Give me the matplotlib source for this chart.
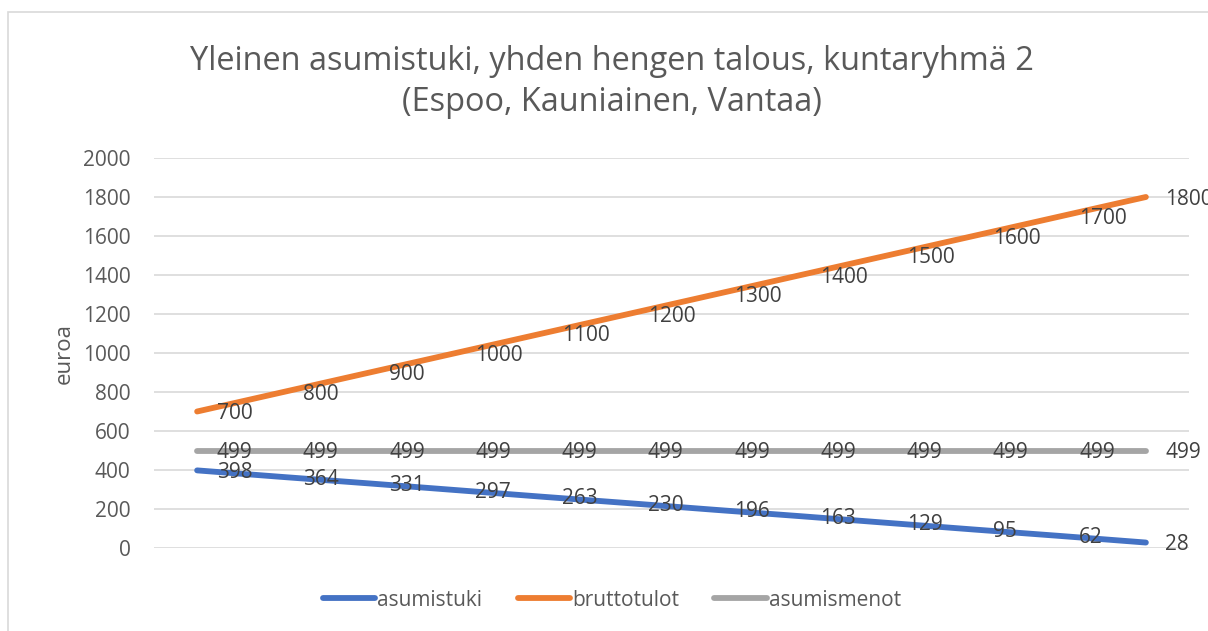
import numpy as np
import matplotlib.pyplot as plt
from matplotlib.patches import Rectangle

plt.rcParams['font.family'] = ['Open Sans', 'DejaVu Sans']

# data
asumistuki = [398, 364, 331, 297, 263, 230, 196, 163, 129, 95, 62, 28]
bruttotulot = [700, 800, 900, 1000, 1100, 1200, 1300, 1400, 1500, 1600, 1700, 1800]
asumismenot = [499] * 12
series_names = ['asumistuki', 'bruttotulot', 'asumismenot']
colors = ['#4472C4', '#ED7D31', '#A5A5A5']
yticks = list(range(0, 2001, 200))

fig = plt.figure(figsize=(12.08, 6.31), dpi=100)
W, H = 1208, 631
ax = fig.add_axes([154 / W, 1 - 548 / H, (1189 - 154) / W, (548 - 158) / H])

# chart border
fig.patches.append(Rectangle((8 / W, -0.05), 1.1, 1 - 12 / H + 0.05, transform=fig.transFigure,
                             fill=False, edgecolor='#D9D9D9', linewidth=1.2))

x = np.arange(len(bruttotulot))
for vals, name, c in zip([asumistuki, bruttotulot, asumismenot], series_names, colors):
    ax.plot(x, vals, color=c, linewidth=4.2, solid_capstyle='round', label=name)
    for xi, v in zip(x, vals):
        ax.annotate(str(v), (xi, v), xytext=(14, -1.5), textcoords='offset points',
                    ha='left', va='center', fontsize=15, color='#404040')

ax.set_xlim(-0.5, 11.5)
ax.set_ylim(0, 2000)
ax.set_yticks(yticks)
ax.set_xticks([])
ax.tick_params(axis='y', length=0, labelsize=15, labelcolor='#595959', pad=17)
ax.grid(axis='y', color='#D9D9D9', linewidth=1.2)
ax.set_axisbelow(True)
for s in ax.spines.values():
    s.set_visible(False)
ax.set_ylabel('euroa', fontsize=16, color='#595959', labelpad=6)

fig.text(612 / W, 1 - 82 / H, 'Yleinen asumistuki, yhden hengen talous, kuntaryhmä 2\n(Espoo, Kauniainen, Vantaa)',
         ha='center', va='center', fontsize=23.4, color='#595959', linespacing=1.32)

leg = fig.legend(loc='center', bbox_to_anchor=(612 / W, 1 - 600 / H), ncol=3, frameon=False,
                 fontsize=15, handlelength=2.5, handletextpad=0.1, columnspacing=1.7)
for t in leg.get_texts():
    t.set_color('#595959')

fig.savefig('out.png', dpi=100)
